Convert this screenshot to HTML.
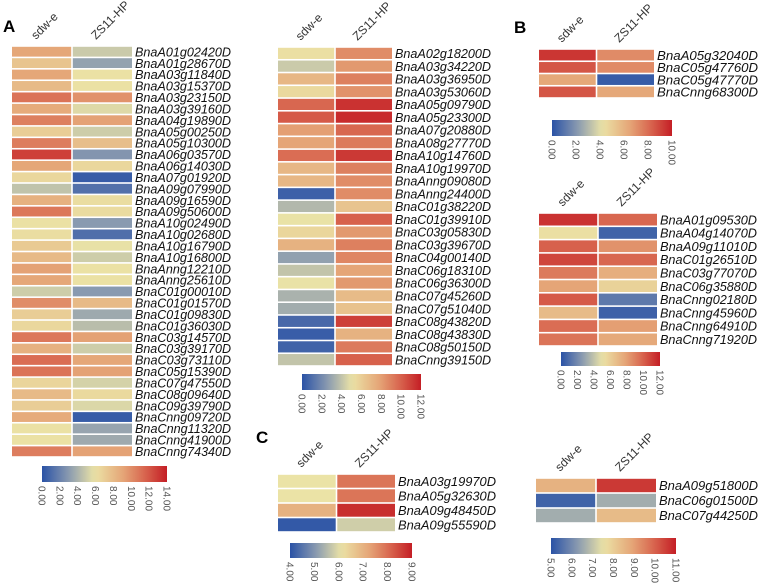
<!DOCTYPE html>
<html><head><meta charset="utf-8"><style>
html,body{margin:0;padding:0;background:#fff;}
svg{display:block;font-family:"Liberation Sans",sans-serif;}
</style></head><body>
<svg id="fig" width="759" height="585" viewBox="0 0 759 585"></svg>
<script>
const cols = ["sdw-e","ZS11-HP"];
const genesA1 = ["BnaA01g02420D","BnaA01g28670D","BnaA03g11840D","BnaA03g15370D","BnaA03g23150D","BnaA03g39160D","BnaA04g19890D","BnaA05g00250D","BnaA05g10300D","BnaA06g03570D","BnaA06g14030D","BnaA07g01920D","BnaA09g07990D","BnaA09g16590D","BnaA09g50600D","BnaA10g02490D","BnaA10g02680D","BnaA10g16790D","BnaA10g16800D","BnaAnng12210D","BnaAnng25610D","BnaC01g00010D","BnaC01g01570D","BnaC01g09830D","BnaC01g36030D","BnaC03g14570D","BnaC03g39170D","BnaC03g73110D","BnaC05g15390D","BnaC07g47550D","BnaC08g09640D","BnaC09g39790D","BnaCnng09720D","BnaCnng11320D","BnaCnng41900D","BnaCnng74340D"];
const sdwA1 = [9.0,7.5,9.0,8.0,11.0,8.8,10.5,7.0,10.6,12.8,9.0,6.5,4.6,8.5,10.8,6.0,6.2,7.2,8.0,9.2,9.0,5.0,10.0,7.0,6.5,10.8,8.5,11.2,11.0,6.6,8.0,7.0,8.8,6.0,6.0,10.6];
const zsA1 = [4.9,3.3,6.0,6.0,9.8,5.5,9.2,5.0,7.8,2.8,6.5,0.4,1.3,6.2,6.3,3.0,1.2,5.8,5.0,6.0,6.0,3.0,8.0,3.6,4.4,9.2,5.0,9.0,9.2,5.2,6.4,5.4,0.4,3.4,3.6,9.2];
const ticksA1 = ["0.00","2.00","4.00","6.00","8.00","10.00","12.00","14.00"];

const genesA2 = ["BnaA02g18200D","BnaA03g34220D","BnaA03g36950D","BnaA03g53060D","BnaA05g09790D","BnaA05g23300D","BnaA07g20880D","BnaA08g27770D","BnaA10g14760D","BnaA10g19970D","BnaAnng09080D","BnaAnng24400D","BnaC01g38220D","BnaC01g39910D","BnaC03g05830D","BnaC03g39670D","BnaC04g00140D","BnaC06g18310D","BnaC06g36300D","BnaC07g45260D","BnaC07g51040D","BnaC08g43820D","BnaC08g43830D","BnaC08g50150D","BnaCnng39150D"];
const sdwA2 = [5.2,4.2,7.0,5.5,9.8,10.2,8.0,7.8,9.6,7.0,7.0,0.5,3.6,5.0,5.6,7.2,2.8,4.0,5.0,3.4,3.2,0.8,0.4,0.6,4.0];
const zsA2 = [8.6,8.2,9.0,8.4,11.4,11.6,9.8,9.2,11.2,9.0,8.6,8.6,6.4,10.0,8.2,9.0,8.8,7.8,8.2,6.8,6.5,11.0,7.2,9.2,10.0];
const ticksA2 = ["0.00","2.00","4.00","6.00","8.00","10.00","12.00"];

const genesB1 = ["BnaA05g32040D","BnaC05g47760D","BnaC05g47770D","BnaCnng68300D"];
const sdwB1 = [9.4,8.6,6.4,8.6];
const zsB1 = [7.2,7.2,0.3,6.4];
const ticksB1 = ["0.00","2.00","4.00","6.00","8.00","10.00"];

const genesB2 = ["BnaA01g09530D","BnaA04g14070D","BnaA09g11010D","BnaC01g26510D","BnaC03g77070D","BnaC06g35880D","BnaCnng02180D","BnaCnng45960D","BnaCnng64910D","BnaCnng71920D"];
const sdwB2 = [11.4,5.2,10.0,10.8,9.2,7.8,10.2,6.8,9.6,9.4];
const zsB2 = [9.8,0.6,8.4,9.8,7.4,5.8,1.4,0.5,8.0,7.6];
const ticksB2 = ["0.00","2.00","4.00","6.00","8.00","10.00","12.00"];

const genesC1 = ["BnaA03g19970D","BnaA05g32630D","BnaA09g48450D","BnaA09g55590D"];
const sdwC1 = [6.1,6.1,7.0,4.1];
const zsC1 = [7.9,7.9,8.8,5.8];
const ticksC1 = ["4.00","5.00","6.00","7.00","8.00","9.00"];

const genesC2 = ["BnaA09g51800D","BnaC06g01500D","BnaC07g44250D"];
const sdwC2 = [8.6,5.3,6.6];
const zsC2 = [10.6,6.6,8.4];
const ticksC2 = ["5.00","6.00","7.00","8.00","9.00","10.00","11.00"];

const NS="http://www.w3.org/2000/svg";
const svg=document.getElementById('fig');
const stops=[[0,[42,82,166]],[0.22,[140,156,176]],[0.42,[235,227,166]],[0.65,[229,165,119]],[0.82,[216,102,79]],[1,[196,30,37]]];
function color(f){f=Math.max(0,Math.min(1,f));for(let i=1;i<stops.length;i++){if(f<=stops[i][0]){const a=stops[i-1],b=stops[i];const t=(f-a[0])/(b[0]-a[0]);const c=a[1].map((v,k)=>Math.round(v+(b[1][k]-v)*t));return `rgb(${c})`;}}return 'rgb(196,30,37)';}
function mk(tag,attrs,parent){const e=document.createElementNS(NS,tag);for(const k in attrs)e.setAttribute(k,attrs[k]);(parent||svg).appendChild(e);return e;}
let gid=0;
function heatmap(id,genes,sdw,zs,ticks,x0,x1,y0,y1,cb,lw){
  const g=mk('g',{});
  
  
  const lo=parseFloat(ticks[0]),hi=parseFloat(ticks[ticks.length-1]);
  const n=genes.length,rh=(y1-y0)/n,cw=(x1-x0)/2;
  const series=[sdw,zs];
  for(let c=0;c<2;c++){
    for(let r=0;r<n;r++){
      const rect=mk('rect',{x:x0+c*cw+(c?0.8:0),y:y0+r*rh+0.8,width:cw-0.8,height:rh-1.6,fill:color((series[c][r]-lo)/(hi-lo))},g);
      
      
    }
    const cx=x0+c*cw+cw/2;
    const t=mk('text',{x:cx-6,y:y0-6,'font-size':12,fill:'#333',transform:`rotate(-45 ${cx-6} ${y0-6})`},g);
    t.textContent=cols[c];
    
    
  }
  for(let r=0;r<n;r++){
    const fs=Math.min(13,rh+1.5);
    const t=mk('text',{x:x1+3,y:y0+r*rh+rh/2+fs*0.36,'font-size':fs,'font-style':'italic',fill:'#111',textLength:lw,lengthAdjust:'spacingAndGlyphs'},g);
    t.textContent=genes[r];
    
    
  }
  const gid2='grad'+(gid++);
  const defs=mk('defs',{},g);const lg=mk('linearGradient',{id:gid2,x1:0,x2:1,y1:0,y2:0},defs);
  for(let i=0;i<=20;i++)mk('stop',{offset:i/20,'stop-color':color(i/20)},lg);
  const bar=mk('rect',{x:cb[0],y:cb[2],width:cb[1]-cb[0],height:cb[3]-cb[2],fill:`url(#${gid2})`},g);
  
  
  ticks.forEach((tk,i)=>{
    const v=parseFloat(tk);const x=cb[0]+(v-lo)/(hi-lo)*(cb[1]-cb[0]);const y=cb[3]+4;
    const t=mk('text',{x:x-3.5,y:y,'font-size':10,fill:'#555',transform:`rotate(90 ${x-3.5} ${y})`},g);
    t.textContent=tk;
    
    
  });
}
heatmap('heatmap-a-left',genesA1,sdwA1,zsA1,ticksA1,12,132,46,457,[42,167,466,482],96);
heatmap('heatmap-a-right',genesA2,sdwA2,zsA2,ticksA2,278,392,47,366,[302,421,374,390],96);
heatmap('heatmap-b-top',genesB1,sdwB1,zsB1,ticksB1,539,654,49,98,[552,672,120,136],101);
heatmap('heatmap-b-bottom',genesB2,sdwB2,zsB2,ticksB2,539,657,213,346,[561,660,352,366],97);
heatmap('heatmap-c-left',genesC1,sdwC1,zsC1,ticksC1,278,395,474,532,[290,412,543,558],98);
heatmap('heatmap-c-right',genesC2,sdwC2,zsC2,ticksC2,536,656,478,523,[551,676,538,554],99);
[['A',3,32],['B',514,33],['C',256,443]].forEach(([l,x,y])=>{
  const t=mk('text',{x:x,y:y,'font-size':17,'font-weight':'bold',fill:'#000'});
  t.textContent=l;
  
  
});
</script>
</body></html>
